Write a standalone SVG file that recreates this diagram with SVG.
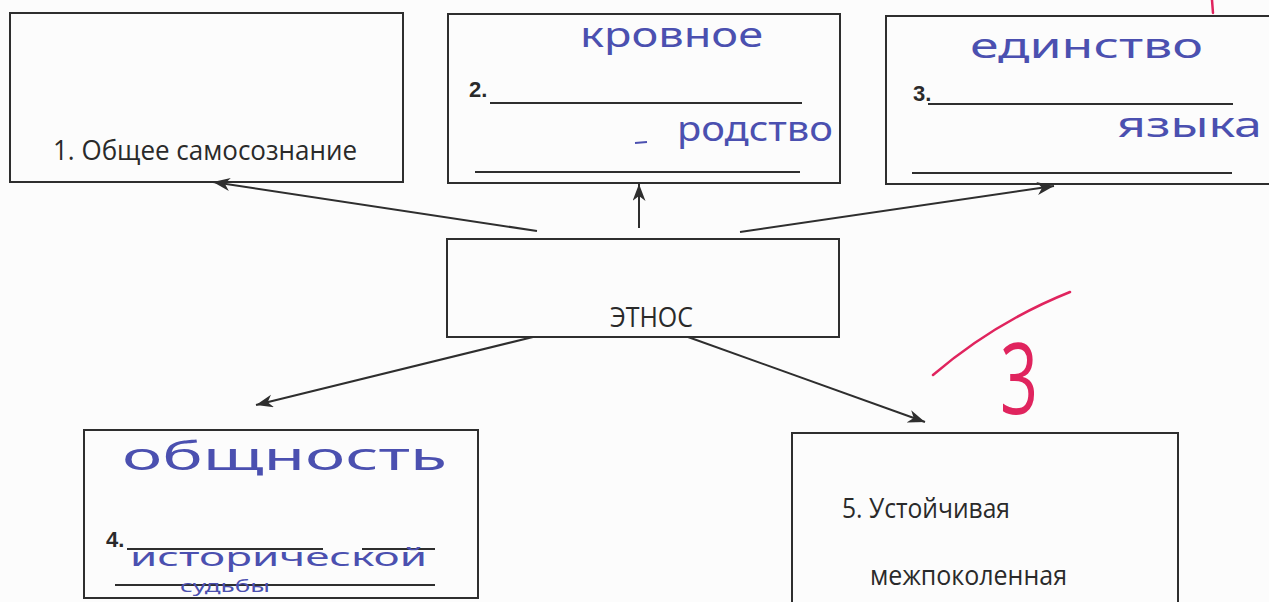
<svg xmlns="http://www.w3.org/2000/svg" width="1269" height="602" viewBox="0 0 1269 602">
<style>
.box{fill:none;stroke:#2e2e2e;stroke-width:2}
.ul{stroke:#2e2e2e;stroke-width:2}
.t{font-family:"Open Sans","Noto Sans","Liberation Sans",sans-serif;font-size:27px;fill:#2a2a2a}
.n{font-family:"Liberation Sans",Arial,sans-serif;font-size:22px;font-weight:bold;fill:#2a2a2a}
.hw{font-family:"Noto Sans","DejaVu Sans",sans-serif;fill:#4b50b0}
.con{stroke:#2e2e2e;stroke-width:2;fill:none;marker-end:url(#ah)}
.red{stroke:#e0245e;stroke-width:2.5;fill:none;stroke-linecap:round}
</style>
<defs>
<marker id="ah" markerWidth="20" markerHeight="14" refX="17" refY="6.5" orient="auto" markerUnits="userSpaceOnUse">
<path d="M0,0 L17,6.5 L0,13 L5,6.5 z" fill="#2e2e2e"/>
</marker>
</defs>
<rect width="1269" height="602" fill="#fcfcfc"/>
<g id="connectors">
<line class="con" x1="537" y1="231" x2="213" y2="182"/>
<line class="con" x1="639" y1="228" x2="639" y2="184"/>
<line class="con" x1="740" y1="232" x2="1054" y2="186"/>
<line class="con" x1="533" y1="337" x2="256" y2="405"/>
<line class="con" x1="688" y1="337" x2="925" y2="422"/>
</g>
<g id="node1">
<rect class="box" x="10" y="13" width="393" height="169"/>
<text class="t" x="53" y="160" textLength="304" lengthAdjust="spacingAndGlyphs">1. Общее самосознание</text>
</g>
<g id="node2">
<rect class="box" x="448" y="14" width="392" height="169"/>
<text class="n" x="469" y="97">2.</text>
<line class="ul" x1="490" y1="103" x2="802" y2="103"/>
<line class="ul" x1="475" y1="172" x2="800" y2="172"/>
<text class="hw" style="font-size:34px" x="580" y="47" textLength="183" lengthAdjust="spacingAndGlyphs">кровное</text>
<line x1="635" y1="143" x2="647" y2="142" stroke="#4b50b0" stroke-width="2"/>
<text class="hw" style="font-size:34px" x="677" y="141" textLength="156" lengthAdjust="spacingAndGlyphs">родство</text>
</g>
<g id="node3">
<rect class="box" x="886" y="16" width="400" height="168"/>
<text class="n" x="913" y="101">3.</text>
<line class="ul" x1="928" y1="104" x2="1233" y2="104"/>
<line class="ul" x1="912" y1="173" x2="1232" y2="173"/>
<text class="hw" style="font-size:34px" x="970" y="58" textLength="233" lengthAdjust="spacingAndGlyphs">единство</text>
<text class="hw" style="font-size:34px" x="1117" y="137" textLength="145" lengthAdjust="spacingAndGlyphs">языка</text>
</g>
<g id="node-ethnos">
<rect class="box" x="447" y="239" width="392" height="98"/>
<text class="t" x="610" y="327" textLength="83" lengthAdjust="spacingAndGlyphs">ЭТНОС</text>
</g>
<g id="node4">
<rect class="box" x="84" y="430" width="394" height="168"/>
<text class="n" x="106" y="547">4.</text>
<line class="ul" x1="127" y1="549" x2="323" y2="549"/>
<line class="ul" x1="362" y1="549" x2="435" y2="549"/>
<line class="ul" x1="115" y1="585" x2="435" y2="585"/>
<text class="hw" style="font-size:38px" x="122" y="470" textLength="325" lengthAdjust="spacingAndGlyphs">общность</text>
<text class="hw" style="font-size:26px" x="130" y="566" textLength="297" lengthAdjust="spacingAndGlyphs">исторической</text>
<text class="hw" style="font-size:16px" x="180" y="592" textLength="90" lengthAdjust="spacingAndGlyphs">судьбы</text>
</g>
<g id="node5">
<rect class="box" x="792" y="433" width="386" height="180"/>
<text class="t" x="842" y="518" textLength="168" lengthAdjust="spacingAndGlyphs">5. Устойчивая</text>
<text class="t" x="870" y="585" textLength="197" lengthAdjust="spacingAndGlyphs">межпоколенная</text>
</g>
<g id="grade">
<line class="red" x1="1212" y1="0" x2="1213" y2="13"/>
<path class="red" d="M933,375 Q995,322 1070,292"/>
<text x="1000" y="414" font-family="Open Sans, sans-serif" font-size="98" fill="#e0245e" textLength="38" lengthAdjust="spacingAndGlyphs">3</text>
</g>
</svg>
